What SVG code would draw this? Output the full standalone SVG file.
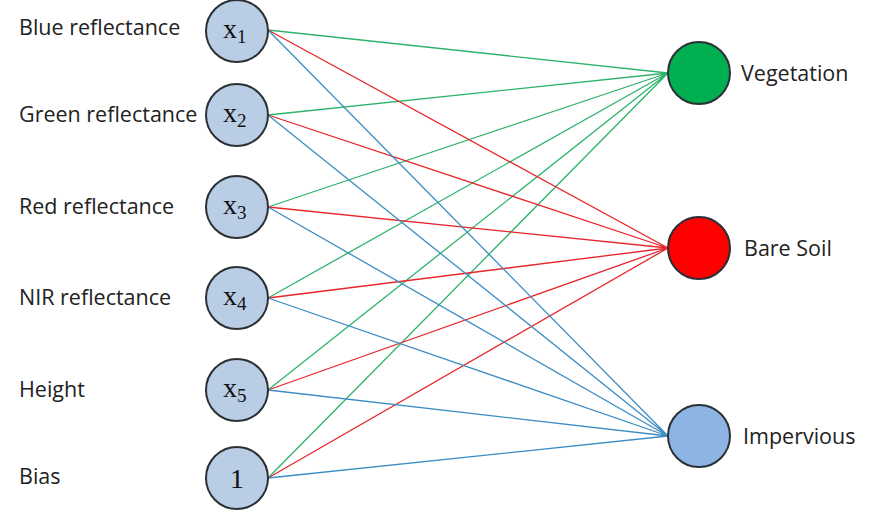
<svg xmlns="http://www.w3.org/2000/svg" width="884" height="521" viewBox="0 0 884 521">
<style>
.lbl{font-family:"Open Sans","Liberation Sans",sans-serif;font-size:21.5px;fill:#222}
.var{font-family:"Liberation Serif",serif;font-size:28px;fill:#111}
.sub{font-size:19px}
.in{fill:#B9CDE5;stroke:#2B2F36;stroke-width:2}
.out{stroke:#2B2F36;stroke-width:2}
.g{stroke:#2EB36B;stroke-width:1.3;fill:none}
.r{stroke:#E8262B;stroke-width:1.3;fill:none}
.b{stroke:#3C8DC4;stroke-width:1.3;fill:none}
</style>
<rect width="884" height="521" fill="#fff"/>
<g id="connectors">
<path class="g" d="M268 30L668 73M268 115L668 73M268 207L668 73M268 298L668 73M268 390L668 73M268 478L668 73"/>
<path class="r" d="M268 30L668 248M268 115L668 248M268 207L668 248M268 298L668 248M268 390L668 248M268 478L668 248"/>
<path class="b" d="M268 30L668 436M268 115L668 436M268 207L668 436M268 298L668 436M268 390L668 436M268 478L668 436"/>
</g>
<g id="x1"><circle class="in" cx="237" cy="31" r="31"/><text class="var" x="223" y="38">x<tspan class="sub" dy="5">1</tspan></text><text class="lbl" x="19" y="35">Blue reflectance</text></g>
<g id="x2"><circle class="in" cx="237" cy="115" r="31"/><text class="var" x="223" y="122">x<tspan class="sub" dy="5">2</tspan></text><text class="lbl" x="19" y="122">Green reflectance</text></g>
<g id="x3"><circle class="in" cx="237" cy="207" r="31"/><text class="var" x="223" y="214">x<tspan class="sub" dy="5">3</tspan></text><text class="lbl" x="19" y="214">Red reflectance</text></g>
<g id="x4"><circle class="in" cx="237" cy="298" r="31"/><text class="var" x="223" y="305">x<tspan class="sub" dy="5">4</tspan></text><text class="lbl" x="19" y="305">NIR reflectance</text></g>
<g id="x5"><circle class="in" cx="237" cy="390" r="31"/><text class="var" x="223" y="397">x<tspan class="sub" dy="5">5</tspan></text><text class="lbl" x="19" y="397">Height</text></g>
<g id="bias"><circle class="in" cx="237" cy="478" r="31"/><text class="var" x="237" y="488" text-anchor="middle">1</text><text class="lbl" x="19" y="484">Bias</text></g>
<g id="vegetation"><circle class="out" cx="699" cy="73" r="31" fill="#00B050"/><text class="lbl" x="741" y="81">Vegetation</text></g>
<g id="baresoil"><circle class="out" cx="699" cy="248" r="31" fill="#FF0000"/><text class="lbl" x="744" y="256">Bare Soil</text></g>
<g id="impervious"><circle class="out" cx="699" cy="436" r="31" fill="#8EB4E3"/><text class="lbl" x="743" y="444">Impervious</text></g>
</svg>
